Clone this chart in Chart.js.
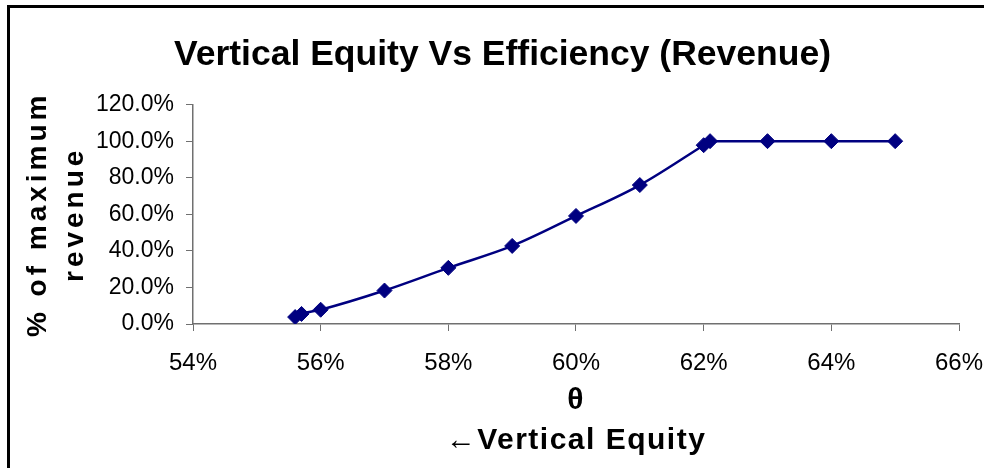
<!DOCTYPE html>
<html>
<head>
<meta charset="utf-8">
<script src="https://cdn.jsdelivr.net/npm/chart.js@4/dist/chart.umd.min.js"></script>
<style>
  html, body { margin: 0; padding: 0; background: #fff; overflow: hidden; }
  #wrap { position: relative; width: 984px; height: 468px; }
  #frame { position: absolute; left: 7px; top: 5px; width: 1000px; height: 500px;
           border-top: 3px solid #000; border-left: 3px solid #000; pointer-events: none; }
</style>
</head>
<body>
<div id="wrap">
  <canvas id="c" width="984" height="468"></canvas>
  <div id="frame"></div>
</div>
<script>
// Data
const thetaValues   = [0.556, 0.557, 0.560, 0.570, 0.580, 0.590, 0.600, 0.610, 0.620, 0.621, 0.630, 0.640, 0.650];
const revenueShare  = [0.038, 0.055, 0.078, 0.183, 0.307, 0.427, 0.591, 0.760, 0.978, 1.000, 1.000, 1.000, 1.000];
const xTickValues   = [0.54, 0.56, 0.58, 0.60, 0.62, 0.64, 0.66];
const yTickValues   = [0.0, 0.2, 0.4, 0.6, 0.8, 1.0, 1.2];
const chartTitle    = 'Vertical Equity Vs Efficiency (Revenue)';
const xTitleLines   = ['θ', '←Vertical Equity'];
const yTitleLines   = ['% of maximum', 'revenue'];

const points = thetaValues.map((x, i) => ({ x: x, y: revenueShare[i] }));
const NAVY = '#000080';
const AXIS = '#707070';
const FONT = '"Liberation Sans", Arial, sans-serif';

function patchTitleSpacing(scale, spacing) {
  if (!scale || scale._spacingPatched) return;
  const orig = scale.drawTitle;
  scale.drawTitle = function () {
    const ctx = this.ctx;
    const prev = ctx.letterSpacing;
    ctx.letterSpacing = spacing;
    orig.call(this);
    ctx.letterSpacing = prev || '0px';
  };
  scale._spacingPatched = true;
}

const letterSpacingPlugin = {
  id: 'titleSpacing',
  afterUpdate(chart) {
    patchTitleSpacing(chart.scales.y, '4px');
    patchTitleSpacing(chart.scales.x, '1.5px');
  }
};

new Chart(document.getElementById('c'), {
  type: 'scatter',
  data: {
    datasets: [{
      label: 'Revenue',
      data: points,
      showLine: true,
      borderColor: NAVY,
      backgroundColor: NAVY,
      borderWidth: 2.5,
      cubicInterpolationMode: 'monotone',
      pointStyle: 'rectRot',
      pointRadius: 7.5,
      pointHoverRadius: 7.5,
      pointBackgroundColor: NAVY,
      pointBorderColor: NAVY,
      pointBorderWidth: 1
    }]
  },
  options: {
    responsive: false,
    animation: false,
    events: [],
    layout: { padding: { left: 46, right: 25, top: 0, bottom: 0 } },
    plugins: {
      legend: { display: false },
      tooltip: { enabled: false },
      title: {
        display: true,
        text: chartTitle,
        color: '#000',
        font: { family: FONT, size: 35.5, weight: 'bold', lineHeight: 1.2 },
        padding: { top: 34, bottom: 28 }
      }
    },
    scales: {
      x: {
        type: 'linear',
        min: xTickValues[0],
        max: xTickValues[xTickValues.length - 1],
        afterBuildTicks: (s) => { s.ticks = xTickValues.map(v => ({ value: v })); },
        afterFit: (s) => { s.height = 144; s.paddingLeft = 0; s.paddingRight = 0; },
        ticks: {
          color: '#000',
          padding: 18,
          font: { family: FONT, size: 24 },
          callback: (v) => Math.round(v * 100) + '%'
        },
        grid: { drawOnChartArea: false, drawTicks: true, tickLength: 7, color: AXIS, tickColor: AXIS },
        border: { display: true, color: AXIS, width: 1.5 },
        title: {
          display: true,
          text: xTitleLines,
          color: '#000',
          font: { family: FONT, size: 30, weight: 'bold', lineHeight: 1.35 },
          padding: { top: 0, bottom: 7 }
        }
      },
      y: {
        type: 'linear',
        min: yTickValues[0],
        max: yTickValues[yTickValues.length - 1],
        afterBuildTicks: (s) => { s.ticks = yTickValues.map(v => ({ value: v })); },
        afterFit: (s) => { s.width = 147; s.paddingTop = 0; s.paddingBottom = 0; },
        ticks: {
          color: '#000',
          padding: 12,
          font: { family: FONT, size: 23 },
          callback: (v) => (v * 100).toFixed(1) + '%'
        },
        grid: { drawOnChartArea: false, drawTicks: true, tickLength: 7, color: AXIS, tickColor: AXIS },
        border: { display: true, color: AXIS, width: 1.5 },
        title: {
          display: true,
          text: yTitleLines,
          color: '#000',
          font: { family: FONT, size: 28, weight: 'bold', lineHeight: 1.32 },
          padding: { top: -26, bottom: 0 }
        }
      }
    }
  },
  plugins: [letterSpacingPlugin]
});
</script>
</body>
</html>
